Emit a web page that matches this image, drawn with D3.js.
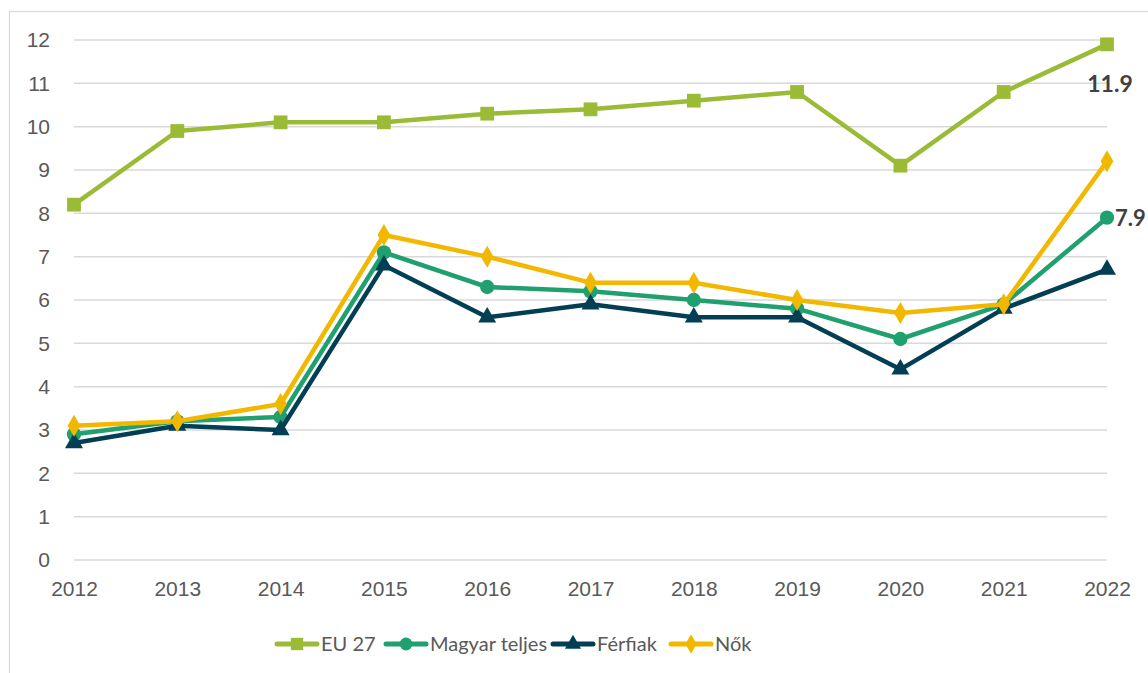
<!DOCTYPE html>
<html>
<head>
<meta charset="utf-8">
<script src="https://cdn.jsdelivr.net/npm/d3@7"></script>
<style>
  body { margin: 0; background: #fff; }
  svg { display: block; font-family: Lato, "Open Sans", sans-serif; }
  .axis text { fill: #595959; font-size: 21px; }
  .grid line { stroke: #d9d9d9; stroke-width: 1.5; }
  .legend text { fill: #595959; font-size: 20px; }
</style>
</head>
<body>
<svg id="chart" width="1148" height="673"></svg>
<script>
const years = [2012, 2013, 2014, 2015, 2016, 2017, 2018, 2019, 2020, 2021, 2022];
const eu27 = [8.2, 9.9, 10.1, 10.1, 10.3, 10.4, 10.6, 10.8, 9.1, 10.8, 11.9];
const magyar = [2.9, 3.2, 3.3, 7.1, 6.3, 6.2, 6.0, 5.8, 5.1, 5.9, 7.9];
const ferfiak = [2.7, 3.1, 3.0, 6.8, 5.6, 5.9, 5.6, 5.6, 4.4, 5.8, 6.7];
const nok = [3.1, 3.2, 3.6, 7.5, 7.0, 6.4, 6.4, 6.0, 5.7, 5.9, 9.2];
const yTicks = [0, 1, 2, 3, 4, 5, 6, 7, 8, 9, 10, 11, 12];

const series = [
  { name: "EU 27", values: eu27, color: "#9bbb37", symbol: d3.symbolSquare, size: 190 },
  { name: "Magyar teljes", values: magyar, color: "#20a06f", symbol: d3.symbolCircle, size: 160 },
  { name: "Férfiak", values: ferfiak, color: "#023f55", symbol: d3.symbolTriangle, size: 140 },
  { name: "Nők", values: nok, color: "#f2b800", symbol: d3.symbolDiamond, size: 140 }
];

const svg = d3.select("#chart");

// chart area frame
svg.append("rect")
  .attr("x", 9.5).attr("y", 11.5)
  .attr("width", 1160).attr("height", 680)
  .attr("fill", "none").attr("stroke", "#d9d9d9").attr("stroke-width", 1.2);

const margin = { left: 74, right: 41, top: 40, bottom: 113 };
const width = 1148 - margin.left - margin.right;
const height = 673 - margin.top - margin.bottom;

const g = svg.append("g").attr("transform", "translate(" + margin.left + "," + margin.top + ")");

const x = d3.scalePoint().domain(years).range([0, width]);
const y = d3.scaleLinear().domain([0, 12]).range([height, 0]);

// gridlines
g.append("g").attr("class", "grid")
  .selectAll("line").data(yTicks).join("line")
  .attr("x1", 0).attr("x2", width)
  .attr("y1", d => y(d)).attr("y2", d => y(d));

// y axis labels
const yAxis = g.append("g").attr("class", "axis")
  .call(d3.axisLeft(y).tickValues(yTicks).tickSize(0).tickPadding(24));
yAxis.select(".domain").remove();

// x axis labels
const xAxis = g.append("g").attr("class", "axis")
  .attr("transform", "translate(0," + height + ")")
  .call(d3.axisBottom(x).tickSize(0).tickPadding(21).tickFormat(d3.format("d")));
xAxis.select(".domain").remove();

const line = d3.line()
  .x((d, i) => x(years[i]))
  .y(d => y(d));

series.forEach(s => {
  g.append("path")
    .datum(s.values)
    .attr("fill", "none")
    .attr("stroke", s.color)
    .attr("stroke-width", 4.5)
    .attr("stroke-linejoin", "round")
    .attr("d", line);

  g.append("g").selectAll("path").data(s.values).join("path")
    .attr("transform", (d, i) => "translate(" + x(years[i]) + "," + y(d) + ")")
    .attr("d", d3.symbol().type(s.symbol).size(s.size))
    .attr("fill", s.color);
});

// end labels
const last = years.length - 1;
g.append("text")
  .attr("x", x(years[last]) + 3)
  .attr("y", y(eu27[last]) + 48)
  .attr("text-anchor", "middle")
  .attr("font-size", 23).attr("font-weight", "bold").attr("fill", "#404040")
  .text(d3.format(".1f")(eu27[last]));

g.append("text")
  .attr("x", x(years[last]) + 8)
  .attr("y", y(magyar[last]) + 8)
  .attr("font-size", 22).attr("font-weight", "bold").attr("fill", "#404040")
  .text(d3.format(".1f")(magyar[last]));

// legend
const legendX = [277, 386, 553, 671];
const legend = svg.append("g").attr("class", "legend")
  .attr("transform", "translate(0,644)");
series.forEach((s, i) => {
  const lg = legend.append("g").attr("transform", "translate(" + legendX[i] + ",0)");
  lg.append("line").attr("x1", 0).attr("x2", 40).attr("y1", 0).attr("y2", 0)
    .attr("stroke", s.color).attr("stroke-width", 5).attr("stroke-linecap", "round");
  lg.append("path").attr("transform", "translate(20,0)")
    .attr("d", d3.symbol().type(s.symbol).size(s.size * 0.8))
    .attr("fill", s.color);
  lg.append("text").attr("x", 44).attr("y", 7).text(s.name);
});
</script>
</body>
</html>
